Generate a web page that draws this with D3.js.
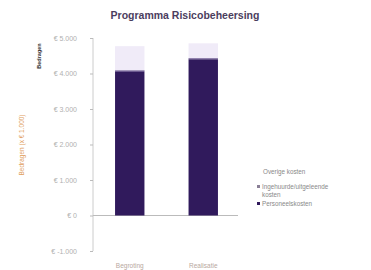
<!DOCTYPE html>
<html>
<head>
<meta charset="utf-8">
<script src="https://cdn.jsdelivr.net/npm/d3@7"></script>
<style>
  body { margin: 0; background: #fff; }
  svg { font-family: "Liberation Sans", Arial, sans-serif; }
</style>
</head>
<body>
<div class="chart"></div>
<script>
var categories = ['Begroting', 'Realisatie'];
var personeel = [4050, 4400];
var ingehuurd = [40, 30];
var overige = [680, 420];
var tickValues = [-1000, 0, 1000, 2000, 3000, 4000, 5000];
var tickLabels = ['€ -1.000', '€ 0', '€ 1.000', '€ 2.000', '€ 3.000', '€ 4.000', '€ 5.000'];
var legendLabels = ['Overige kosten', 'Ingehuurde/uitgeleende kosten', 'Personeelskosten'];

var width = 371, height = 270;
var colors = {pers: '#301a5c', inh: '#4a3578', ov: '#f0ebf8'};

var svg = d3.select('.chart').append('svg')
    .attr('width', width)
    .attr('height', height);

var y = d3.scaleLinear().domain([-1000, 5000]).range([251, 38]);
var x = d3.scaleBand().domain(categories).range([93, 240]).paddingInner(0.6).paddingOuter(0.3);

// title
svg.append('text')
    .attr('x', 185).attr('y', 19)
    .attr('text-anchor', 'middle')
    .attr('font-size', 10.5).attr('font-weight', 'bold')
    .attr('fill', '#4b3d5e')
    .text('Programma Risicobeheersing');

// y axis
var yAxis = d3.axisLeft(y).tickValues(tickValues).tickSize(3)
    .tickFormat(function(d, i) { return tickLabels[i]; });
var ga = svg.append('g').attr('transform', 'translate(93,0)').call(yAxis);
ga.select('.domain').attr('stroke', '#ccc').attr('d', 'M0,' + y(5000) + 'V' + y(-1000));
ga.selectAll('.tick line').attr('stroke', '#bbb');
ga.selectAll('.tick text').attr('fill', '#b0b0b0').attr('font-size', 7).attr('x', -16);

// zero line
svg.append('line')
    .attr('x1', 93).attr('x2', 238)
    .attr('y1', y(0)).attr('y2', y(0))
    .attr('stroke', '#bbb');

// stacked bars
var stacks = categories.map(function(c, i) {
    return [
        {y0: 0, y1: personeel[i], color: colors.pers},
        {y0: personeel[i], y1: personeel[i] + ingehuurd[i], color: colors.inh},
        {y0: personeel[i] + ingehuurd[i], y1: personeel[i] + ingehuurd[i] + overige[i], color: colors.ov}
    ];
});

var bars = svg.selectAll('.bar')
    .data(stacks)
    .enter().append('g')
    .attr('transform', function(d, i) { return 'translate(' + x(categories[i]) + ',0)'; });

bars.selectAll('rect')
    .data(function(d) { return d; })
    .enter().append('rect')
    .attr('x', 0)
    .attr('width', x.bandwidth())
    .attr('y', function(d) { return y(d.y1); })
    .attr('height', function(d) { return y(d.y0) - y(d.y1); })
    .attr('fill', function(d) { return d.color; });

// x labels
svg.selectAll('.xl')
    .data(categories)
    .enter().append('text')
    .attr('x', function(d) { return x(d) + x.bandwidth() / 2; })
    .attr('y', 268)
    .attr('text-anchor', 'middle')
    .attr('font-size', 6.5)
    .attr('fill', '#b8a8a0')
    .text(function(d) { return d; });

// y axis titles
svg.append('text')
    .attr('transform', 'translate(24,145) rotate(-90)')
    .attr('text-anchor', 'middle')
    .attr('font-size', 6.5)
    .attr('fill', '#e0a060')
    .text('Bedragen (x € 1.000)');

svg.append('text')
    .attr('transform', 'translate(41,56) rotate(-90)')
    .attr('text-anchor', 'middle')
    .attr('font-size', 5.5).attr('font-weight', 'bold')
    .attr('fill', '#333')
    .text('Bedragen');

// legend
var legColors = [null, '#8a7f96', colors.pers];
var legY = [174, 189, 206];
var leg = svg.selectAll('.leg')
    .data(legendLabels)
    .enter().append('g')
    .attr('transform', function(d, i) { return 'translate(257,' + legY[i] + ')'; });

leg.filter(function(d, i) { return legColors[i]; })
    .append('rect')
    .attr('x', 0).attr('y', -4)
    .attr('width', 3).attr('height', 3)
    .attr('fill', function(d) { return legColors[legendLabels.indexOf(d)]; });

leg.append('text')
    .attr('x', function(d, i) { return i === 0 ? 6 : 5; })
    .attr('font-size', 6.3)
    .attr('fill', '#888')
    .each(function(d, i) {
        var t = d3.select(this);
        if (i === 1) {
            t.append('tspan').attr('x', 5).text('Ingehuurde/uitgeleende');
            t.append('tspan').attr('x', 5).attr('dy', 7.5).text('kosten');
        } else {
            t.text(d);
        }
    });
</script>
</body>
</html>
